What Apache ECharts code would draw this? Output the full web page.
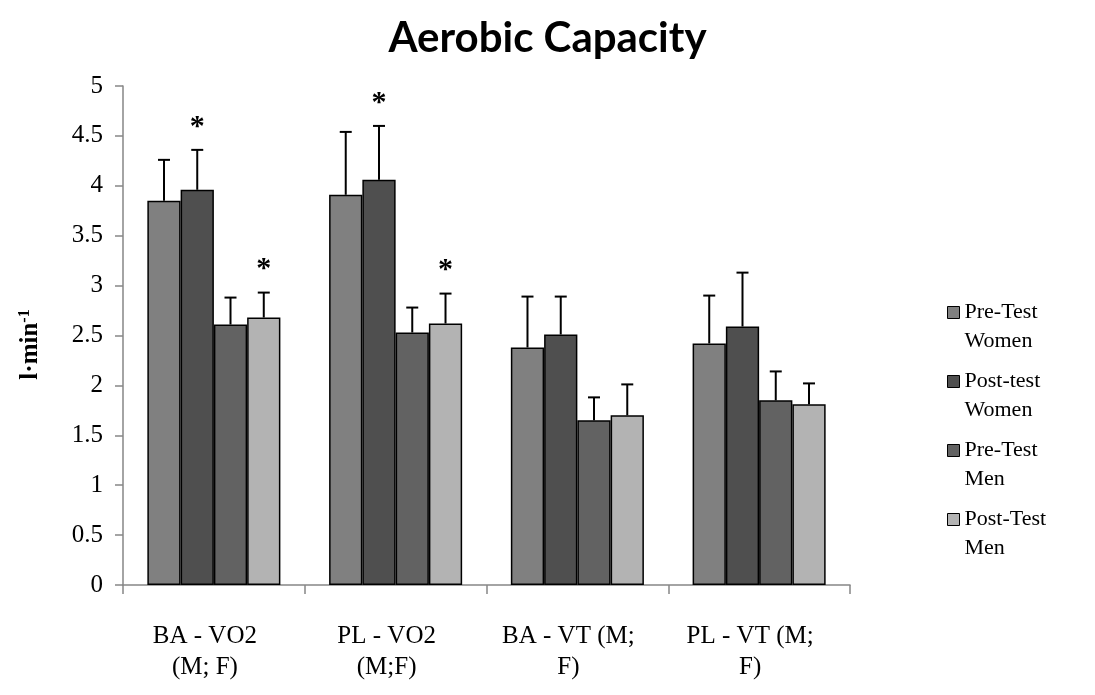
<!DOCTYPE html>
<html>
<head>
<meta charset="utf-8">
<title>Aerobic Capacity</title>
<script src="https://cdn.jsdelivr.net/npm/echarts@6/dist/echarts.min.js"></script>
<style>
  html, body { margin: 0; padding: 0; background: #ffffff; }
  #chart { width: 1095px; height: 695px; }
</style>
</head>
<body>
<div id="chart"></div>
<script>
// Test groups on the category axis
const categories = ['BA - VO2\n(M; F)', 'PL - VO2\n(M;F)', 'BA - VT (M;\nF)', 'PL - VT (M;\nF)'];

// Legend names
const seriesNames = ['Pre-Test\nWomen', 'Post-test\nWomen', 'Pre-Test\nMen', 'Post-Test\nMen'];

// Mean values (l·min-1)
const preWomen  = [3.85, 3.91, 2.38, 2.42];
const postWomen = [3.96, 4.06, 2.51, 2.59];
const preMen    = [2.61, 2.53, 1.65, 1.85];
const postMen   = [2.68, 2.62, 1.70, 1.81];

// Standard deviations (upper error bars)
const preWomenSD  = [0.41, 0.63, 0.51, 0.48];
const postWomenSD = [0.40, 0.54, 0.38, 0.54];
const preMenSD    = [0.27, 0.25, 0.23, 0.29];
const postMenSD   = [0.25, 0.30, 0.31, 0.21];

// Significance markers (1 = draw an asterisk above the error bar)
const preWomenSig  = [0, 0, 0, 0];
const postWomenSig = [1, 1, 0, 0];
const preMenSig    = [0, 0, 0, 0];
const postMenSig   = [1, 1, 0, 0];

// Y-axis ticks
const yTicks = [0, 0.5, 1, 1.5, 2, 2.5, 3, 3.5, 4, 4.5, 5];

const means = [preWomen, postWomen, preMen, postMen];
const sds = [preWomenSD, postWomenSD, preMenSD, postMenSD];
const sigs = [preWomenSig, postWomenSig, preMenSig, postMenSig];
const colors = ['#808080', '#4f4f4f', '#626262', '#b3b3b3'];

const BAR_CATEGORY_GAP = 0.268;
const serif = '"Liberation Serif", "DejaVu Serif", serif';

// Rows for the error-bar layer: [category, series, mean, sd, significant]
const errorRows = [];
means.forEach((arr, s) => {
  arr.forEach((v, c) => errorRows.push([c, s, v, sds[s][c], sigs[s][c]]));
});

const barSeries = means.map((arr, s) => ({
  name: seriesNames[s],
  type: 'bar',
  data: arr,
  barGap: '0%',
  barCategoryGap: (BAR_CATEGORY_GAP * 100) + '%',
  itemStyle: { color: colors[s], borderColor: '#000000', borderWidth: 1.5 },
  emphasis: { disabled: true },
  z: 2
}));

// Error bars with caps, plus asterisks for significant changes
function renderErrorBar(params, api) {
  const c = api.value(0);
  const s = api.value(1);
  const mean = api.value(2);
  const sd = api.value(3);
  const sig = api.value(4);
  const catW = api.size([1, 0])[0];
  const groupW = catW * (1 - BAR_CATEGORY_GAP);
  const barW = groupW / means.length;
  const base = api.coord([c, mean]);
  const top = api.coord([c, mean + sd]);
  const x = base[0] - groupW / 2 + barW * (s + 0.5);
  const capHalf = 6;
  const lineStyle = { stroke: '#000000', lineWidth: 2 };
  const children = [
    { type: 'line', shape: { x1: x, y1: base[1], x2: x, y2: top[1] }, style: lineStyle },
    { type: 'line', shape: { x1: x - capHalf, y1: top[1], x2: x + capHalf, y2: top[1] }, style: lineStyle }
  ];
  if (sig) {
    children.push({
      type: 'text',
      style: {
        text: '*',
        x: x,
        y: top[1] - 8,
        align: 'center',
        verticalAlign: 'bottom',
        fill: '#000000',
        font: 'bold 30px ' + serif
      }
    });
  }
  return { type: 'group', children: children };
}

const chart = echarts.init(document.getElementById('chart'), null, { renderer: 'canvas' });

chart.setOption({
  backgroundColor: '#ffffff',
  animation: false,
  title: {
    text: 'Aerobic Capacity',
    left: 'center',
    top: 12,
    textStyle: {
      fontFamily: 'Lato, "Open Sans", sans-serif',
      fontWeight: 'bold',
      fontSize: 42,
      color: '#000000'
    }
  },
  legend: {
    orient: 'vertical',
    left: 942,
    top: 264,
    itemWidth: 12,
    itemHeight: 12,
    itemGap: -18,
    icon: 'rect',
    selectedMode: false,
    data: seriesNames,
    // a blank leading line keeps the swatch level with the first text line
    formatter: name => ' \n' + name,
    textStyle: {
      fontFamily: serif,
      fontSize: 22,
      color: '#000000',
      lineHeight: 29
    },
    itemStyle: { borderColor: '#000000', borderWidth: 1 }
  },
  grid: {
    left: 123,
    right: 245,
    top: 86,
    bottom: 110,
    containLabel: false
  },
  xAxis: {
    type: 'category',
    data: categories,
    axisLine: { lineStyle: { color: '#868686', width: 1.5 } },
    axisTick: { show: true, length: 9, lineStyle: { color: '#868686', width: 1.5 } },
    axisLabel: {
      fontFamily: serif,
      fontSize: 25,
      color: '#000000',
      lineHeight: 31,
      margin: 36,
      padding: [0, 18, 0, 0],
      interval: 0
    }
  },
  yAxis: {
    type: 'value',
    min: yTicks[0],
    max: yTicks[yTicks.length - 1],
    interval: yTicks[1] - yTicks[0],
    name: '{a|l·min}{b|-1}',
    nameLocation: 'middle',
    nameRotate: 90,
    nameGap: 78,
    nameTextStyle: {
      padding: [0, 18, 0, 0],
      rich: {
        a: { fontFamily: serif, fontWeight: 'bold', fontSize: 25, color: '#000000' },
        b: { fontFamily: serif, fontWeight: 'bold', fontSize: 16, color: '#000000', verticalAlign: 'top', padding: [0, 0, 12, 0] }
      }
    },
    splitLine: { show: false },
    axisLine: { show: true, lineStyle: { color: '#868686', width: 1.5 } },
    axisTick: { show: true, length: 8, lineStyle: { color: '#868686', width: 1.5 } },
    axisLabel: {
      fontFamily: serif,
      fontSize: 25,
      color: '#000000',
      margin: 20
    }
  },
  series: barSeries.concat([{
    type: 'custom',
    renderItem: renderErrorBar,
    data: errorRows,
    encode: { x: 0, y: 2 },
    silent: true,
    z: 3
  }])
});
</script>
</body>
</html>
